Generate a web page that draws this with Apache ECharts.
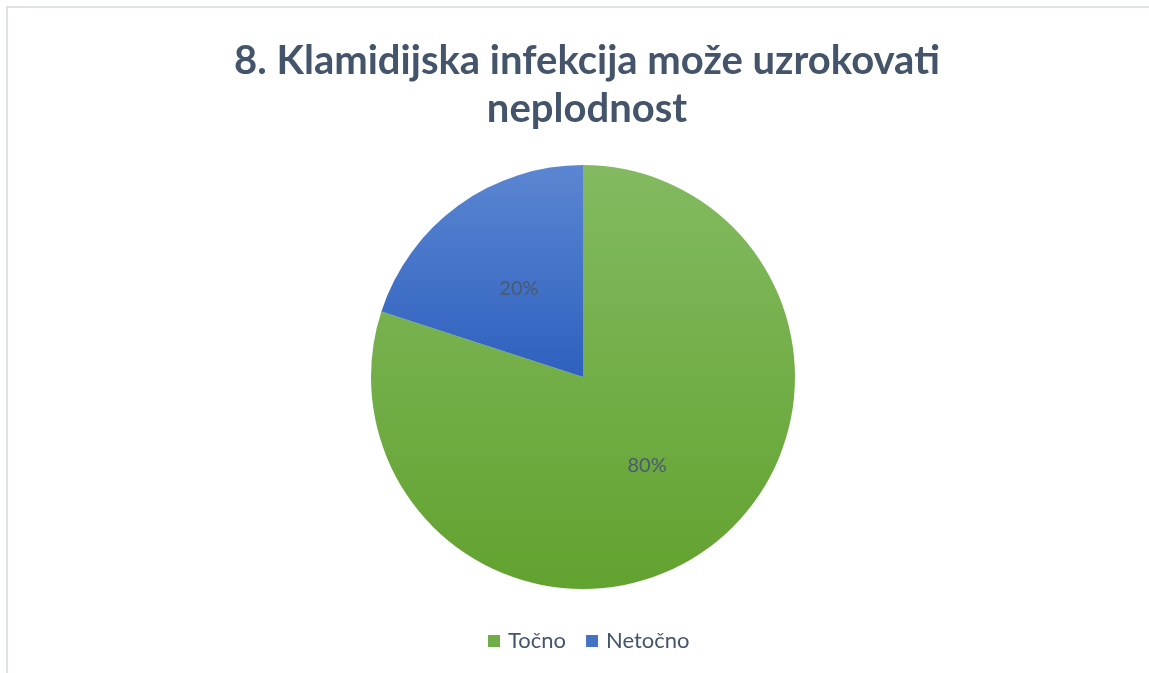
<!DOCTYPE html>
<html>
<head>
<meta charset="utf-8">
<script src="https://cdn.jsdelivr.net/npm/echarts@6/dist/echarts.min.js"></script>
<style>
html,body{margin:0;padding:0;background:#fff;}
#chart{width:1149px;height:673px;}
</style>
</head>
<body>
<div id="chart"></div>
<script>
const titleText = '8. Klamidijska infekcija može uzrokovati\nneplodnost';
const categories = ['Točno', 'Netočno'];
const values = [80, 20];
const colorsTop = ['#83BA61', '#5B86D2'];
const colorsBottom = ['#62A22F', '#2E60BE'];
const legendColors = ['#70AD47', '#4472C4'];

const chart = echarts.init(document.getElementById('chart'), null, {renderer: 'canvas'});
const data = categories.map((c, i) => ({
  name: c,
  value: values[i],
  itemStyle: {
    color: new echarts.graphic.LinearGradient(0, 0, 0, 1, [
      {offset: 0, color: colorsTop[i]},
      {offset: 1, color: colorsBottom[i]}
    ])
  }
}));

chart.setOption({
  backgroundColor: '#ffffff',
  animation: false,
  title: {
    text: titleText,
    left: 582,
    textAlign: 'center',
    top: 32,
    textStyle: {
      fontFamily: 'Lato',
      fontWeight: 'bold',
      fontSize: 40,
      lineHeight: 48,
      color: '#44546A'
    }
  },
  legend: {
    bottom: 16,
    left: 483,
    itemWidth: 12,
    itemHeight: 12,
    itemGap: 20,
    icon: 'rect',
    textStyle: {fontFamily: 'Lato', fontSize: 22, color: '#44546A', padding: [0, 0, 0, 3]},
    data: categories.map((c, i) => ({name: c, itemStyle: {color: legendColors[i]}}))
  },
  graphic: [{
    type: 'polyline',
    silent: true,
    shape: {points: [[7, 673], [7, 7], [1149, 7]]},
    style: {stroke: '#DDE2E8', lineWidth: 2, fill: null}
  }],
  series: [{
    type: 'pie',
    center: [583, 377],
    radius: 212,
    startAngle: 90,
    clockwise: true,
    data: data,
    label: {
      show: true,
      position: 'inside',
      formatter: '{d}%',
      fontFamily: 'Lato',
      fontSize: 20,
      color: '#4A5A72'
    },
    labelLine: {show: false},
    itemStyle: {borderWidth: 0}
  }]
});
</script>
</body>
</html>
